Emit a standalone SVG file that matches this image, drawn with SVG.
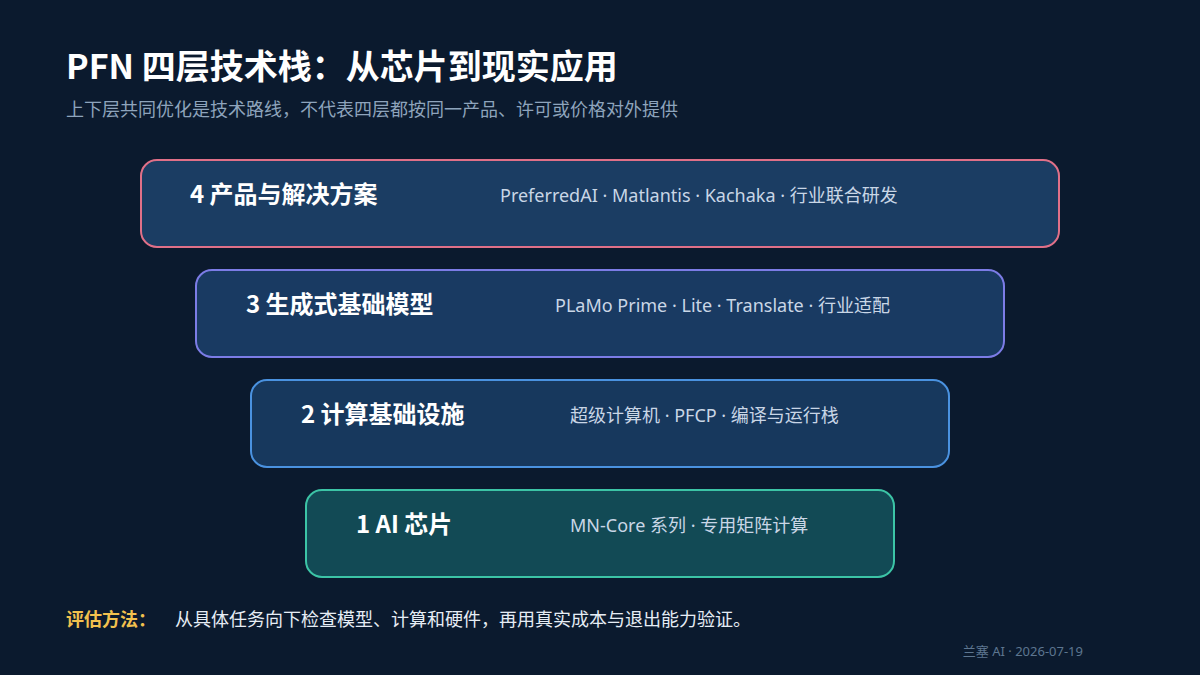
<svg xmlns="http://www.w3.org/2000/svg" width="1200" height="675" viewBox="0 0 1200 675">
<style>
.t{font-family:"Noto Sans CJK SC","Noto Sans",sans-serif;}
.box{stroke-width:2;}
.lbl{font-family:"Noto Sans CJK SC","Noto Sans",sans-serif;font-weight:700;font-size:24px;fill:#ffffff;}
.desc{font-family:"Noto Sans","Noto Sans CJK SC",sans-serif;font-size:18px;fill:#c9d6e6;}
.foot{font-family:"Noto Sans","Noto Sans CJK SC",sans-serif;font-size:13px;fill:#5d7690;}
</style>
<rect width="1200" height="675" fill="#0b1a2e"/>
<text class="t" x="66" y="79" font-size="34" font-weight="700" fill="#ffffff">PFN 四层技术栈：从芯片到现实应用</text>
<text class="t" x="66" y="116" font-size="18" fill="#8ea4bc">上下层共同优化是技术路线，不代表四层都按同一产品、许可或价格对外提供</text>
<g id="layer4">
<rect class="box" x="141" y="160" width="918" height="87" rx="16" fill="#1b3d63" stroke="#e07088"/>
<text class="lbl" x="190" y="203">4 产品与解决方案</text>
<text class="desc" x="500" y="202">PreferredAI · Matlantis · Kachaka · 行业联合研发</text>
</g>
<g id="layer3">
<rect class="box" x="196" y="270" width="808" height="87" rx="16" fill="#193a62" stroke="#7c7ce6"/>
<text class="lbl" x="246" y="313">3 生成式基础模型</text>
<text class="desc" x="555" y="312">PLaMo Prime · Lite · Translate · 行业适配</text>
</g>
<g id="layer2">
<rect class="box" x="251" y="380" width="698" height="87" rx="16" fill="#17385d" stroke="#4a92e0"/>
<text class="lbl" x="301" y="423">2 计算基础设施</text>
<text class="desc" x="570" y="422">超级计算机 · PFCP · 编译与运行栈</text>
</g>
<g id="layer1">
<rect class="box" x="306" y="490" width="588" height="87" rx="16" fill="#124a55" stroke="#3cc4a6"/>
<text class="lbl" x="356" y="533">1 AI 芯片</text>
<text class="desc" x="570" y="532">MN-Core 系列 · 专用矩阵计算</text>
</g>
<g id="connectors"></g>
<text class="t" x="66" y="626" font-size="18" font-weight="700" fill="#f2c14e">评估方法：</text>
<text class="t" x="175" y="626" font-size="18" fill="#e6edf5">从具体任务向下检查模型、计算和硬件，再用真实成本与退出能力验证。</text>
<text class="foot" x="1083" y="656" text-anchor="end">兰塞 AI · 2026-07-19</text>
</svg>
